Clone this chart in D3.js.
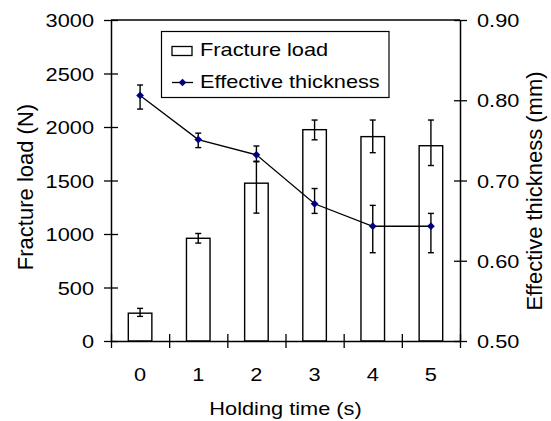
<!DOCTYPE html>
<html>
<head>
<meta charset="utf-8">
<script src="https://cdn.jsdelivr.net/npm/d3@7"></script>
<style>
  body { margin: 0; background: #fff; }
  text { font-family: "Liberation Sans", Arial, sans-serif; fill: #000; }
</style>
</head>
<body>
<div id="chart"></div>
<script>
// holding time categories and the two measured series (mean, +err, -err)
var categories = ["0", "1", "2", "3", "4", "5"];
var loadMean = [260, 960, 1475, 1975, 1910, 1825];
var loadErrPlus = [45, 45, 200, 90, 155, 240];
var loadErrMinus = [30, 45, 280, 95, 150, 185];
var thickMean = [0.806, 0.751, 0.732, 0.671, 0.643, 0.643];
var thickErrPlus = [0.013, 0.008, 0.011, 0.019, 0.026, 0.016];
var thickErrMinus = [0.017, 0.010, 0.008, 0.012, 0.033, 0.033];
var loadTicks = [0, 500, 1000, 1500, 2000, 2500, 3000];
var thickTicks = [0.5, 0.6, 0.7, 0.8, 0.9];

var width = 551, height = 421;
var plotL = 111, plotR = 460, plotT = 20, plotB = 341;
var fs = 18.6, sx = 1.17;   // horizontal text is drawn a little wide
var navy = "#000080";

var svg = d3.select("#chart").append("svg")
    .attr("width", width)
    .attr("height", height);

var x = d3.scaleBand().domain(categories).range([plotL, plotR]).padding(0);
var xEdge = d3.scaleLinear().domain([0, categories.length]).range([plotL, plotR]);
var yL = d3.scaleLinear().domain([0, 3000]).range([plotB, plotT]);
var yR = d3.scaleLinear().domain([0.5, 0.9]).range([plotB, plotT]);
var barW = x.bandwidth() * 0.405;

var rows = categories.map(function(c, i) {
  return {c: c, load: loadMean[i], lp: loadErrPlus[i], lm: loadErrMinus[i],
          th: thickMean[i], tp: thickErrPlus[i], tm: thickErrMinus[i]};
});

// bars
svg.append("g").selectAll("rect")
    .data(rows)
    .enter().append("rect")
    .attr("x", function(d) { return x(d.c) + x.bandwidth() / 2 - barW / 2; })
    .attr("y", function(d) { return yL(d.load); })
    .attr("width", barW)
    .attr("height", function(d) { return yL(0) - yL(d.load); })
    .style("fill", "#fff")
    .style("stroke", "#000")
    .style("stroke-width", 1.4);

function errBars(g, yScale, val, plus, minus) {
  var e = g.selectAll("g").data(rows).enter().append("g")
      .attr("transform", function(d) { return "translate(" + (x(d.c) + x.bandwidth() / 2) + ",0)"; })
      .style("stroke", "#000").style("stroke-width", 1.4);
  e.append("line")
      .attr("y1", function(d) { return yScale(d[val] + d[plus]); })
      .attr("y2", function(d) { return yScale(d[val] - d[minus]); });
  e.append("line").attr("x1", -3).attr("x2", 3)
      .attr("y1", function(d) { return yScale(d[val] + d[plus]); })
      .attr("y2", function(d) { return yScale(d[val] + d[plus]); });
  e.append("line").attr("x1", -3).attr("x2", 3)
      .attr("y1", function(d) { return yScale(d[val] - d[minus]); })
      .attr("y2", function(d) { return yScale(d[val] - d[minus]); });
}
errBars(svg.append("g"), yL, "load", "lp", "lm");

// thickness line
var line = d3.line()
    .x(function(d) { return x(d.c) + x.bandwidth() / 2; })
    .y(function(d) { return yR(d.th); });
svg.append("path")
    .datum(rows)
    .attr("d", line)
    .style("fill", "none")
    .style("stroke", "#000")
    .style("stroke-width", 1.3);
errBars(svg.append("g"), yR, "th", "tp", "tm");

var diamond = d3.symbol().type(d3.symbolSquare).size(30);
svg.append("g").selectAll("path")
    .data(rows)
    .enter().append("path")
    .attr("d", diamond)
    .attr("transform", function(d) {
      return "translate(" + (x(d.c) + x.bandwidth() / 2) + "," + yR(d.th) + ") rotate(45)";
    })
    .style("fill", navy);

// frame top
svg.append("line")
    .attr("x1", plotL).attr("x2", plotR).attr("y1", plotT).attr("y2", plotT)
    .style("stroke", "#000").style("stroke-width", 1.5);

function styleAxis(g) {
  g.select(".domain").style("stroke", "#000").style("stroke-width", 1.5);
  g.selectAll(".tick line").style("stroke", "#000").style("stroke-width", 1.3);
  g.selectAll("text").style("font-size", fs + "px").style("fill", "#000");
}

// left axis
var gL = svg.append("g")
    .attr("transform", "translate(" + plotL + ",0)")
    .call(d3.axisLeft(yL).tickValues(loadTicks).tickSizeOuter(0).tickFormat(d3.format("d")));
gL.selectAll(".tick line").attr("x1", -7).attr("x2", 7);
gL.selectAll(".tick text")
    .attr("x", 0).attr("dy", "0.36em")
    .attr("transform", "translate(-17,0) scale(" + sx + ",1)");
styleAxis(gL);

// right axis
var gR = svg.append("g")
    .attr("transform", "translate(" + plotR + ",0)")
    .call(d3.axisRight(yR).tickValues(thickTicks).tickSizeOuter(0).tickFormat(d3.format(".2f")));
gR.selectAll(".tick line").attr("x1", -6).attr("x2", 7);
gR.selectAll(".tick text")
    .attr("x", 0).attr("dy", "0.36em")
    .attr("transform", "translate(17,0) scale(" + sx + ",1)");
styleAxis(gR);

// bottom axis: tick marks on the category edges, labels in the middle
var gB = svg.append("g")
    .attr("transform", "translate(0," + plotB + ")")
    .call(d3.axisBottom(xEdge).tickValues(d3.range(categories.length + 1)).tickSizeOuter(0).tickFormat(""));
gB.selectAll(".tick line").attr("y1", -7).attr("y2", 7);
styleAxis(gB);

var gBL = svg.append("g")
    .attr("transform", "translate(0," + plotB + ")")
    .call(d3.axisBottom(x).tickSize(0));
gBL.select(".domain").remove();
gBL.selectAll(".tick text")
    .attr("y", 40).attr("dy", 0)
    .attr("transform", "scale(" + sx + ",1)")
    .attr("x", 0);
styleAxis(gBL);

// axis titles
svg.append("text")
    .attr("transform", "translate(" + ((plotL + plotR) / 2) + ",415) scale(" + sx + ",1)")
    .attr("text-anchor", "middle")
    .style("font-size", fs + "px")
    .text("Holding time (s)");

svg.append("text")
    .attr("transform", "translate(32.5,187) rotate(-90)")
    .attr("text-anchor", "middle")
    .style("font-size", "22px")
    .text("Fracture load (N)");

svg.append("text")
    .attr("transform", "translate(541.5,191) rotate(-90)")
    .attr("text-anchor", "middle")
    .style("font-size", "22px")
    .text("Effective thickness (mm)");

// legend
var lg = svg.append("g").attr("class", "legend");
lg.append("rect")
    .attr("x", 161.5).attr("y", 31.5).attr("width", 227.5).attr("height", 66)
    .style("fill", "#fff").style("stroke", "#000").style("stroke-width", 1.2);
lg.append("rect")
    .attr("x", 172).attr("y", 46.5).attr("width", 20).attr("height", 9)
    .style("fill", "#fff").style("stroke", "#000").style("stroke-width", 1.3);
lg.append("line")
    .attr("x1", 172).attr("x2", 193).attr("y1", 82.5).attr("y2", 82.5)
    .style("stroke", "#000").style("stroke-width", 1.3);
lg.append("path")
    .attr("d", diamond)
    .attr("transform", "translate(182.5,82.5) rotate(45)")
    .style("fill", navy);
lg.append("text")
    .attr("transform", "translate(200,55.5) scale(" + sx + ",1)")
    .style("font-size", fs + "px")
    .text("Fracture load");
lg.append("text")
    .attr("transform", "translate(200,88) scale(" + sx + ",1)")
    .style("font-size", fs + "px")
    .text("Effective thickness");
</script>
</body>
</html>
